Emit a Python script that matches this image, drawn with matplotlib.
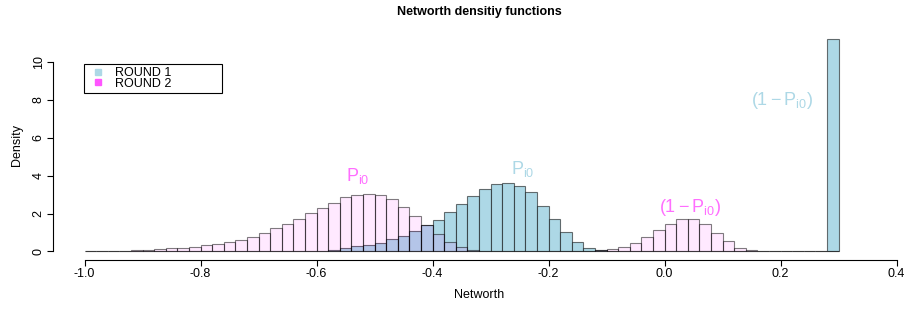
import numpy as np
import matplotlib
matplotlib.use("Agg")
import matplotlib.pyplot as plt
from matplotlib.lines import Line2D

plt.rcParams["font.family"] = ["Liberation Sans", "DejaVu Sans"]
plt.rcParams["mathtext.fontset"] = "custom"
plt.rcParams["mathtext.rm"] = "Liberation Sans"
plt.rcParams["mathtext.it"] = "Liberation Sans:italic"

# histogram bins (width 0.02) from -1.0 to 0.30
bin_edges = np.round(np.linspace(-1.0, 0.30, 66), 2)

# density per bin
round1 = [0, 0, 0, 0, 0, 0, 0, 0, 0, 0, 0, 0, 0.005, 0.005, 0.01,
          0.01, 0.02, 0.02, 0.03, 0.04,
          0.05, 0.09, 0.18, 0.28, 0.35, 0.46, 0.65, 0.83, 1.08, 1.41,
          1.68, 2.10, 2.49, 2.91, 3.30, 3.55, 3.62, 3.47, 3.12, 2.42, 1.73, 1.02, 0.48, 0.19, 0.07,
          0.02, 0.01, 0.01,
          0, 0, 0, 0, 0, 0, 0, 0, 0, 0, 0, 0, 0, 0, 0, 0,
          11.25]
round2 = [0.01, 0.02, 0.03, 0.04, 0.06, 0.09, 0.12, 0.18, 0.19, 0.25, 0.32, 0.39, 0.51, 0.63, 0.78, 0.99, 1.23,
          1.43, 1.71, 2.01, 2.31, 2.57, 2.86, 3.00, 3.05, 2.96, 2.79, 2.36, 1.89, 1.38,
          0.92, 0.51, 0.25, 0.10, 0.04, 0.02,
          0.01, 0.01, 0.01, 0.01, 0.01, 0.01, 0.01,
          0.02, 0.07, 0.14,
          0.25, 0.45, 0.77, 1.11, 1.47, 1.71, 1.69, 1.44, 1.00, 0.55, 0.20, 0.06, 0.04, 0.02, 0.02, 0.01, 0.01, 0.005,
          0]

labels = ["ROUND 1", "ROUND 2"]
x_ticks = [-1.0, -0.8, -0.6, -0.4, -0.2, 0.0, 0.2, 0.4]
y_ticks = [0, 2, 4, 6, 8, 10]

blue = "#ADD8E6"
pink_fill = (1, 0, 1, 0.085)
pink_text = "#FF6EFF"

fig = plt.figure(figsize=(9.07, 3.11), dpi=100)
ax = fig.add_axes([53 / 907, 1 - 260 / 311, 852 / 907, 230 / 311])

left = bin_edges[:-1]
ax.bar(left, round1, width=0.02, align="edge", color=blue,
       edgecolor=(0, 0, 0, 0.55), linewidth=0.8)
ax.bar(left, round2, width=0.02, align="edge", color=pink_fill,
       edgecolor=(0, 0, 0, 0.5), linewidth=0.8)

ax.set_xlim(-1.0544, 0.4144)
ax.set_ylim(-0.45, 11.7)

for s in ["top", "right"]:
    ax.spines[s].set_visible(False)
ax.spines["bottom"].set_bounds(-1.0, 0.4)
ax.spines["left"].set_bounds(0, 10)
ax.set_xticks(x_ticks)
ax.set_xticklabels([f"{v:.1f}" for v in x_ticks])
ax.set_yticks(y_ticks)
ax.tick_params(direction="out", length=4, width=0.8, labelsize=9, pad=2)
for lbl in ax.get_yticklabels():
    lbl.set_rotation(90)
    lbl.set_va("center")

ax.set_xlabel("Networth", fontsize=9, labelpad=6)
ax.set_ylabel("Density", fontsize=9, labelpad=7)
ax.set_title("Networth densitiy functions", fontsize=9, fontweight="bold", pad=11)

# annotations
ax.text(-0.529, 3.97, r"$\mathrm{P}_{\mathrm{i0}}$", color=pink_text, fontsize=13, ha="center", va="center")
ax.text(-0.245, 4.34, r"$\mathrm{P}_{\mathrm{i0}}$", color=blue, fontsize=13, ha="center", va="center")
ax.text(0.043, 2.33, r"$(1-\mathrm{P}_{\mathrm{i0}})$", color=pink_text, fontsize=13, ha="center", va="center")
ax.text(0.202, 8.0, r"$(1-\mathrm{P}_{\mathrm{i0}})$", color=blue, fontsize=13, ha="center", va="center")

handles = [Line2D([], [], marker="s", linestyle="none", color=blue, markersize=4),
           Line2D([], [], marker="s", linestyle="none", color="#FF55FF", markersize=4)]
leg = ax.legend(handles, labels, loc="upper left",
                bbox_to_anchor=(84 / 907, 1 - 64 / 311, 138 / 907, 0.0),
                bbox_transform=fig.transFigure, mode="expand", borderaxespad=0,
                fontsize=9, labelspacing=-0.12, handlelength=1.8, handletextpad=0.4,
                borderpad=0.25, fancybox=False, edgecolor="black", framealpha=1)
leg.get_frame().set_linewidth(0.8)

fig.savefig("out.png", dpi=100)
